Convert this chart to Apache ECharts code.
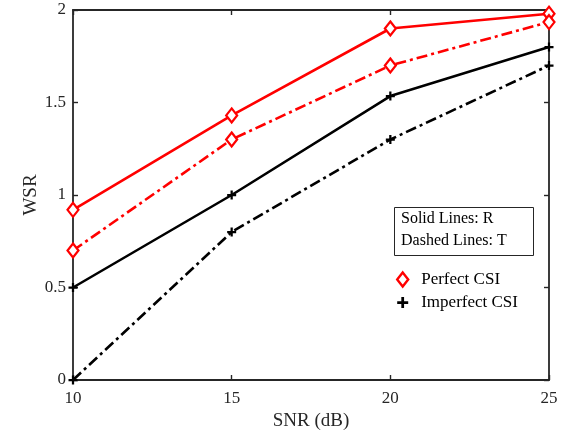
<!DOCTYPE html>
<html>
<head>
<meta charset="utf-8">
<script src="https://cdn.jsdelivr.net/npm/echarts@6/dist/echarts.min.js"></script>
<style>
  html, body { margin: 0; padding: 0; background: #fff; }
  #chart { width: 568px; height: 439px; }
</style>
</head>
<body>
<div id="chart"></div>
<script>
// SNR sweep (dB)
const snr = [10, 15, 20, 25];
// Weighted sum rate, perfect CSI
const perfectR = [0.92, 1.43, 1.90, 1.98];
const perfectT = [0.70, 1.30, 1.70, 1.935];
// Weighted sum rate, imperfect CSI
const imperfectR = [0.50, 1.00, 1.535, 1.80];
const imperfectT = [0.00, 0.80, 1.30, 1.70];
const yTicks = [0, 0.5, 1, 1.5, 2];

const FONT = 'Liberation Serif';
const AXIS = '#262626';
const RED = '#ff0000';
const BLACK = '#000000';
const PLUS = 'path://M3,0H5V3H8V5H5V8H3V5H0V3H3Z';
const DASHDOT = [11, 4, 3, 4];

const pairs = v => snr.map((x, i) => [x, v[i]]);

const axisCommon = {
  axisLine: { show: true, onZero: false, lineStyle: { color: AXIS, width: 1.8 } },
  axisTick: { show: true, inside: true, length: 5, lineStyle: { color: AXIS, width: 1.4 } },
  splitLine: { show: false }
};

function lineSeries(name, data, color, type, symbol, size) {
  return {
    name, type: 'line', data: pairs(data),
    lineStyle: { color, width: 2.6, type },
    symbol, symbolSize: size, showSymbol: true,
    itemStyle: symbol === 'diamond'
      ? { color: '#fff', borderColor: color, borderWidth: 2.2 }
      : { color, borderWidth: 0 },
    z: 3
  };
}

const chart = echarts.init(document.getElementById('chart'));
chart.setOption({
  animation: false,
  backgroundColor: '#fff',
  grid: { left: 73, right: 19, top: 10, bottom: 59 },
  xAxis: [
    Object.assign({
      type: 'value', min: 10, max: 25, interval: 5,
      name: 'SNR (dB)', nameLocation: 'middle', nameGap: 32,
      nameTextStyle: { fontFamily: FONT, fontSize: 19, color: '#262626' },
      axisLabel: { fontFamily: FONT, fontSize: 17, color: '#262626', margin: 10 }
    }, axisCommon),
    Object.assign({
      type: 'value', min: 10, max: 25, interval: 5, position: 'top',
      axisLabel: { show: false }
    }, axisCommon)
  ],
  yAxis: [
    Object.assign({
      type: 'value', min: 0, max: 2, interval: 0.5,
      name: 'WSR', nameLocation: 'middle', nameGap: 32, nameMoveOverlap: false,
      nameTextStyle: { fontFamily: FONT, fontSize: 19, color: '#262626' },
      axisLabel: {
        fontFamily: FONT, fontSize: 17, color: '#262626', margin: 7,
        formatter: v => yTicks.includes(v) ? String(v) : ''
      }
    }, axisCommon),
    Object.assign({
      type: 'value', min: 0, max: 2, interval: 0.5, position: 'right',
      axisLabel: { show: false }
    }, axisCommon)
  ],
  legend: {
    orient: 'vertical', left: 391, top: 266, itemGap: 6,
    itemWidth: 11, itemHeight: 14,
    textStyle: { fontFamily: FONT, fontSize: 17, color: '#000', padding: [0, 0, 0, 8] },
    data: [
      { name: 'Perfect CSI', icon: 'diamond',
        itemStyle: { color: '#fff', borderColor: RED, borderWidth: 2.4 } },
      { name: 'Imperfect CSI', icon: PLUS,
        itemStyle: { color: BLACK, borderWidth: 0 } }
    ]
  },
  graphic: [
    { type: 'rect', shape: { x: 394.5, y: 207.5, width: 139, height: 48 },
      style: { fill: '#fff', stroke: '#262626', lineWidth: 1 }, z: 10 },
    { type: 'text', x: 401, y: 211,
      style: { text: 'Solid Lines: R', font: '16px "Liberation Serif"', fill: '#000' }, z: 11 },
    { type: 'text', x: 401, y: 233,
      style: { text: 'Dashed Lines: T', font: '16px "Liberation Serif"', fill: '#000' }, z: 11 }
  ],
  series: [
    lineSeries('Perfect CSI', perfectR, RED, 'solid', 'diamond', [11, 14]),
    lineSeries('Perfect CSI', perfectT, RED, DASHDOT, 'diamond', [11, 14]),
    lineSeries('Imperfect CSI', imperfectR, BLACK, 'solid', PLUS, 9),
    lineSeries('Imperfect CSI', imperfectT, BLACK, DASHDOT, PLUS, 9)
  ]
});
</script>
</body>
</html>
